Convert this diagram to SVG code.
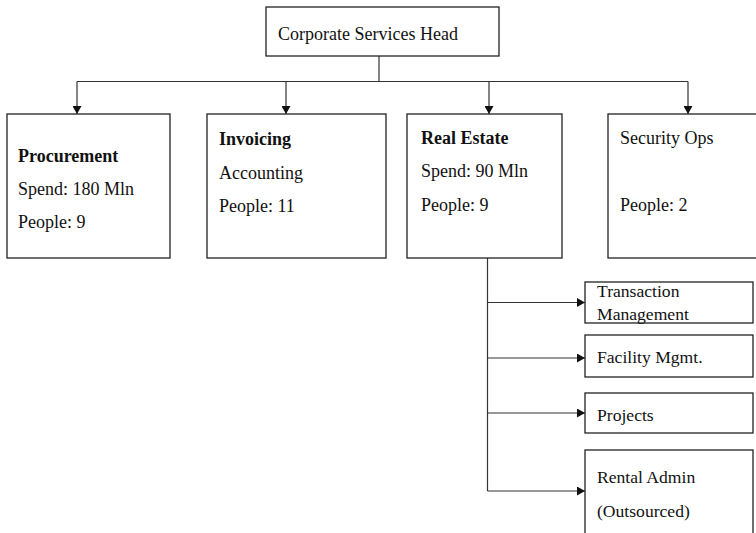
<svg xmlns="http://www.w3.org/2000/svg" width="756" height="533" viewBox="0 0 756 533">
  <defs>
    <marker id="arrow" markerWidth="8" markerHeight="9" refX="8" refY="4.5" orient="auto" markerUnits="userSpaceOnUse">
      <path d="M0,0 L8,4.5 L0,9 Z" fill="#111"/>
    </marker>
    <style>
      .box { fill: #fff; stroke: #222; stroke-width: 1.3; }
      .conn { fill: none; stroke: #333; stroke-width: 1.2; }
      .arr { marker-end: url(#arrow); }
      text { font-family: "Liberation Serif", "Times New Roman", serif; font-size: 18px; fill: #111; }
      .b { font-weight: bold; }
      .s { font-size: 17.6px; }
    </style>
  </defs>
  <rect width="756" height="533" fill="#fff"/>

  <g id="connectors">
    <path class="conn" d="M379,56 V81.5 M77,81.5 H688"/>
    <path class="conn arr" d="M77,81.5 V114"/>
    <path class="conn arr" d="M286,81.5 V114"/>
    <path class="conn arr" d="M489,81.5 V114"/>
    <path class="conn arr" d="M688,81.5 V114"/>
    <path class="conn" d="M487.5,258 V491"/>
    <path class="conn arr" d="M487.5,302.5 H585"/>
    <path class="conn arr" d="M487.5,358 H585"/>
    <path class="conn arr" d="M487.5,413 H585"/>
    <path class="conn arr" d="M487.5,491 H585"/>
  </g>

  <g id="head">
    <rect class="box" x="266" y="7" width="233" height="49"/>
    <text x="278" y="40">Corporate Services Head</text>
  </g>

  <g id="procurement">
    <rect class="box" x="7" y="114" width="163" height="144"/>
    <text class="b" x="18" y="162">Procurement</text>
    <text x="18" y="195">Spend: 180 Mln</text>
    <text x="18" y="228">People: 9</text>
  </g>

  <g id="invoicing">
    <rect class="box" x="207" y="114" width="179" height="144"/>
    <text class="b" x="219" y="145">Invoicing</text>
    <text x="219" y="179">Accounting</text>
    <text x="219" y="212">People: 11</text>
  </g>

  <g id="real-estate">
    <rect class="box" x="407" y="114" width="155" height="144"/>
    <text class="b" x="421" y="144">Real Estate</text>
    <text x="421" y="177">Spend: 90 Mln</text>
    <text x="421" y="211">People: 9</text>
  </g>

  <g id="security-ops">
    <rect class="box" x="608" y="114" width="160" height="144"/>
    <text x="620" y="144">Security Ops</text>
    <text x="620" y="211">People: 2</text>
  </g>

  <g id="transaction-management">
    <rect class="box" x="585" y="282" width="168" height="41"/>
    <text class="s" x="597" y="297">Transaction</text>
    <text class="s" x="597" y="320">Management</text>
  </g>

  <g id="facility-mgmt">
    <rect class="box" x="585" y="335" width="168" height="42"/>
    <text class="s" x="597" y="363">Facility Mgmt.</text>
  </g>

  <g id="projects">
    <rect class="box" x="585" y="393" width="168" height="40"/>
    <text class="s" x="597" y="421">Projects</text>
  </g>

  <g id="rental-admin">
    <rect class="box" x="585" y="450" width="168" height="95"/>
    <text class="s" x="597" y="483">Rental Admin</text>
    <text class="s" x="597" y="517">(Outsourced)</text>
  </g>
</svg>
